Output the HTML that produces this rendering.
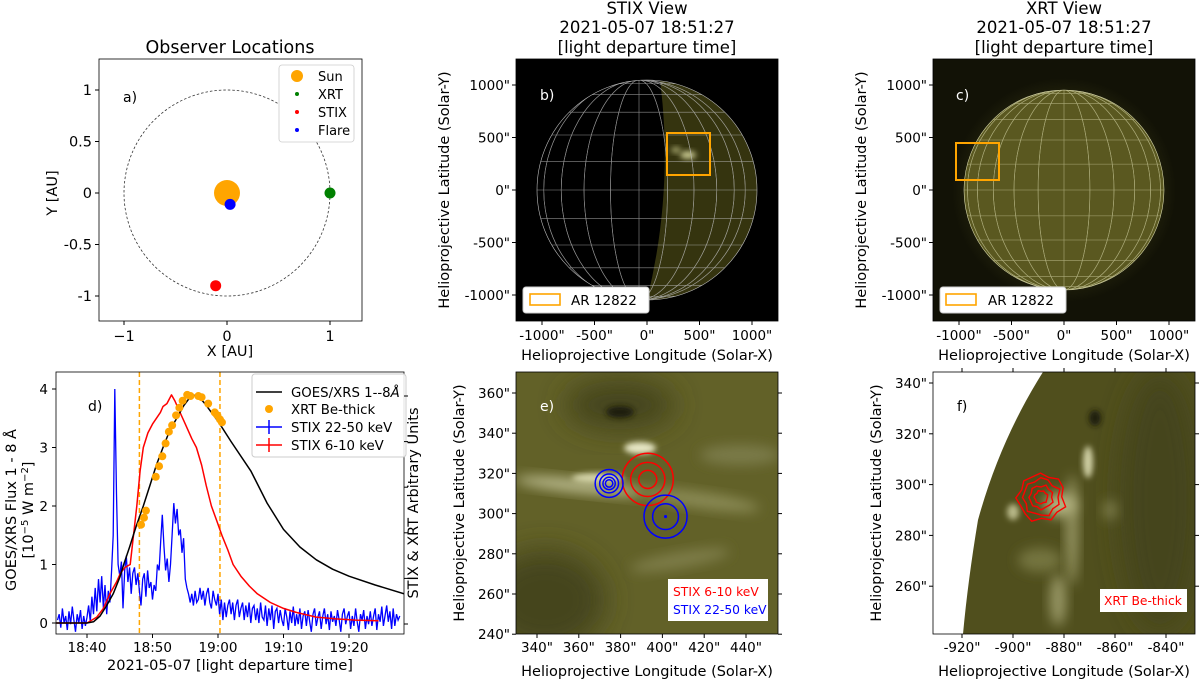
<!DOCTYPE html>
<html><head><meta charset="utf-8"><style>
html,body{margin:0;padding:0;background:#fff}
svg{display:block;font-family:"DejaVu Sans","Liberation Sans",sans-serif}
</style></head><body>
<svg id="fig" width="1200" height="679" viewBox="0 0 1200 679">
<defs>
<filter id="bl3" x="-50%" y="-50%" width="200%" height="200%"><feGaussianBlur stdDeviation="3"/></filter>
<filter id="bl6" x="-50%" y="-50%" width="200%" height="200%"><feGaussianBlur stdDeviation="6"/></filter>
<filter id="bl12" x="-50%" y="-50%" width="200%" height="200%"><feGaussianBlur stdDeviation="14"/></filter>
<clipPath id="clipB"><rect x="516" y="59" width="262" height="262"/></clipPath>
<clipPath id="clipC"><rect x="933" y="59" width="262" height="262"/></clipPath>
<clipPath id="clipE"><rect x="516" y="372" width="262" height="262"/></clipPath>
<clipPath id="clipF"><rect x="933" y="372" width="262" height="262"/></clipPath>
<clipPath id="clipD"><rect x="56" y="372" width="348" height="262"/></clipPath>
<clipPath id="diskB"><circle cx="647" cy="190" r="110"/></clipPath>
<clipPath id="diskC"><circle cx="1064" cy="190" r="100"/></clipPath>
<radialGradient id="glowC" cx="0.5" cy="0.5" r="0.5"><stop offset="0.8" stop-color="#22220c"/><stop offset="1" stop-color="#121206"/></radialGradient>
</defs>

<!-- ============ Panel a ============ -->
<g id="panelA">
<text x="230" y="53" font-size="17.5" text-anchor="middle">Observer Locations</text>
<rect x="99" y="59" width="263" height="262" fill="#fff" stroke="#000" stroke-width="0.8"/>
<g id="aMarks"></g>
<text x="123" y="102" font-size="14">a)</text>
<g>
<rect x="279" y="65" width="75" height="77" rx="3" fill="#fff" stroke="#ccc" stroke-width="0.8"/>
<circle cx="297" cy="76" r="6" fill="#ffa500"/><text x="318" y="81" font-size="13">Sun</text>
<circle cx="297" cy="94" r="2" fill="#008000"/><text x="318" y="99" font-size="13">XRT</text>
<circle cx="297" cy="112" r="2" fill="#ff0000"/><text x="318" y="117" font-size="13">STIX</text>
<circle cx="297" cy="130" r="2" fill="#0000ff"/><text x="318" y="135" font-size="13">Flare</text>
</g>
<g id="aTicks" font-size="14.5"></g>
<text x="230" y="356" font-size="14.5" text-anchor="middle">X [AU]</text>
<text transform="translate(57,193) rotate(-90)" font-size="14.5" text-anchor="middle">Y [AU]</text>
</g>

<!-- ============ Panel b ============ -->
<g id="panelB">
<g font-size="16.5" text-anchor="middle">
<text x="647" y="14">STIX View</text><text x="647" y="33">2021-05-07 18:51:27</text><text x="647" y="53">[light departure time]</text>
</g>
<rect x="516" y="59" width="262" height="262" fill="#000"/>
<g clip-path="url(#diskB)">
<path d="M660,80 Q674,190 647,300 L770,300 L770,80 Z" fill="#35340f"/>
<ellipse cx="688" cy="155" rx="8" ry="4" fill="#c8c890" filter="url(#bl3)"/>
<ellipse cx="676" cy="150" rx="5" ry="3" fill="#a8a870" filter="url(#bl3)"/>
</g>
<g id="gridB" clip-path="url(#diskB)" stroke="#bdbdbd" stroke-width="0.6" fill="none" opacity="0.75"></g>
<circle cx="647" cy="190" r="110" fill="none" stroke="#bdbdbd" stroke-width="0.6"/>
<rect x="667" y="133" width="43" height="42" fill="none" stroke="#ffa500" stroke-width="2"/>
<text x="540" y="100" font-size="14" fill="#fff">b)</text>
<g>
<rect x="523" y="287" width="126" height="26" rx="3" fill="#fff" stroke="#ccc"/>
<rect x="530" y="294" width="30" height="11" fill="none" stroke="#ffa500" stroke-width="1.6"/>
<text x="571" y="305" font-size="13.5">AR 12822</text>
</g>
<rect x="516" y="59" width="262" height="262" fill="none" stroke="#000" stroke-width="0.8"/>
<g id="bTicks" font-size="13.5"></g>
<text x="647" y="360" font-size="14.5" text-anchor="middle">Helioprojective Longitude (Solar-X)</text>
<text transform="translate(449,190) rotate(-90)" font-size="14.5" text-anchor="middle">Helioprojective Latitude (Solar-Y)</text>
</g>

<!-- ============ Panel c ============ -->
<g id="panelC">
<g font-size="16.5" text-anchor="middle">
<text x="1064" y="14">XRT View</text><text x="1064" y="33">2021-05-07 18:51:27</text><text x="1064" y="53">[light departure time]</text>
</g>
<rect x="933" y="59" width="262" height="262" fill="#121206"/>
<circle cx="1064" cy="190" r="112" fill="url(#glowC)" clip-path="url(#clipC)"/>
<circle cx="1064" cy="190" r="100" fill="#5a5820"/>
<g id="gridC" clip-path="url(#diskC)" stroke="#d6d6a8" stroke-width="0.6" fill="none" opacity="0.65"></g>
<circle cx="1064" cy="190" r="100" fill="none" stroke="#d6d6a8" stroke-width="0.6"/>
<rect x="956" y="143" width="43" height="37" fill="none" stroke="#ffa500" stroke-width="2"/>
<text x="956" y="100" font-size="14" fill="#fff">c)</text>
<g>
<rect x="940" y="287" width="126" height="26" rx="3" fill="#fff" stroke="#ccc"/>
<rect x="946" y="294" width="30" height="11" fill="none" stroke="#ffa500" stroke-width="1.6"/>
<text x="988" y="305" font-size="13.5">AR 12822</text>
</g>
<rect x="933" y="59" width="262" height="262" fill="none" stroke="#000" stroke-width="0.8"/>
<g id="cTicks" font-size="13.5"></g>
<text x="1064" y="360" font-size="14.5" text-anchor="middle">Helioprojective Longitude (Solar-X)</text>
<text transform="translate(866,190) rotate(-90)" font-size="14.5" text-anchor="middle">Helioprojective Latitude (Solar-Y)</text>
</g>

<!-- ============ Panel d ============ -->
<g id="panelD">
<rect x="56" y="372" width="348" height="262" fill="#fff"/>
<g id="dMarks" clip-path="url(#clipD)"></g>
<rect x="56" y="372" width="348" height="262" fill="none" stroke="#000" stroke-width="0.8"/>
<text x="88" y="411" font-size="14">d)</text>
<g>
<rect x="252" y="374" width="154" height="83" rx="3" fill="#fff" fill-opacity="0.85" stroke="#ccc"/>
<line x1="256" y1="392" x2="282" y2="392" stroke="#000" stroke-width="1.5"/><text x="291" y="397" font-size="13.3">GOES/XRS 1--8<tspan font-style="italic">Å</tspan></text>
<circle cx="269" cy="409" r="4" fill="#ffa500"/><text x="291" y="414" font-size="13.3">XRT Be-thick</text>
<line x1="256" y1="427" x2="282" y2="427" stroke="#0000ff" stroke-width="1.5"/><line x1="269" y1="420" x2="269" y2="434" stroke="#0000ff" stroke-width="1.5"/><text x="291" y="432" font-size="13.3">STIX 22-50 keV</text>
<line x1="256" y1="445" x2="282" y2="445" stroke="#ff0000" stroke-width="1.5"/><line x1="269" y1="438" x2="269" y2="452" stroke="#ff0000" stroke-width="1.5"/><text x="291" y="450" font-size="13.3">STIX 6-10 keV</text>
</g>
<g id="dTicks" font-size="13.5"></g>
<text x="230" y="670" font-size="14.5" text-anchor="middle">2021-05-07 [light departure time]</text>
<text transform="translate(16,510) rotate(-90)" font-size="14.5" text-anchor="middle">GOES/XRS Flux 1 - 8 Å</text>
<text transform="translate(33,510) rotate(-90)" font-size="14.5" text-anchor="middle">[10<tspan dy="-5" font-size="10">−5</tspan><tspan dy="5"> W m</tspan><tspan dy="-5" font-size="10">−2</tspan><tspan dy="5">]</tspan></text>
<text transform="translate(418,503) rotate(-90)" font-size="14.5" text-anchor="middle">STIX &amp; XRT Arbitrary Units</text>
</g>

<!-- ============ Panel e ============ -->
<g id="panelE">
<g clip-path="url(#clipE)">
<rect x="516" y="372" width="262" height="262" fill="#626128"/>
<ellipse cx="545" cy="600" rx="60" ry="50" fill="#45451c" filter="url(#bl12)"/>
<ellipse cx="620" cy="405" rx="55" ry="25" fill="#45451a" filter="url(#bl12)"/>
<ellipse cx="620" cy="412" rx="14" ry="6" fill="#1a1a08" filter="url(#bl3)"/>
<ellipse cx="580" cy="486" rx="65" ry="7" fill="#b6b688" filter="url(#bl6)" transform="rotate(6 580 486)"/>
<ellipse cx="640" cy="448" rx="16" ry="6" fill="#e6e6c4" filter="url(#bl3)"/>
<ellipse cx="598" cy="478" rx="26" ry="5" fill="#d4d4a8" filter="url(#bl3)"/>
<ellipse cx="700" cy="500" rx="60" ry="8" fill="#8a8a55" filter="url(#bl6)" transform="rotate(8 700 500)"/>
<ellipse cx="680" cy="560" rx="50" ry="8" fill="#7e7d4a" filter="url(#bl6)" transform="rotate(-10 680 560)"/>
<ellipse cx="740" cy="455" rx="40" ry="10" fill="#7a7a48" filter="url(#bl6)"/>
</g>
<g id="eContours"></g>
<rect x="516" y="372" width="262" height="262" fill="none" stroke="#000" stroke-width="0.8"/>
<text x="540" y="411" font-size="14" fill="#fff">e)</text>
<g>
<rect x="668" y="579" width="100" height="42" fill="#fff"/>
<text x="673" y="596" font-size="12.3" fill="#ff0000">STIX  6-10 keV</text>
<text x="673" y="614" font-size="12.3" fill="#0000ff">STIX 22-50 keV</text>
</g>
<g id="eTicks" font-size="13.5"></g>
<text x="647" y="676" font-size="14.5" text-anchor="middle">Helioprojective Longitude (Solar-X)</text>
<text transform="translate(464,503) rotate(-90)" font-size="14.5" text-anchor="middle">Helioprojective Latitude (Solar-Y)</text>
</g>

<!-- ============ Panel f ============ -->
<g id="panelF">
<g clip-path="url(#clipF)">
<rect x="933" y="372" width="262" height="262" fill="#504f1d"/>
<ellipse cx="1160" cy="500" rx="40" ry="130" fill="#45441a" filter="url(#bl12)"/>
<ellipse cx="1095" cy="418" rx="6" ry="8" fill="#1a1a08" filter="url(#bl3)"/>
<ellipse cx="1088" cy="462" rx="5" ry="16" fill="#d0d0a4" filter="url(#bl3)"/>
<ellipse cx="1072" cy="530" rx="6" ry="55" fill="#9a9966" filter="url(#bl6)"/>
<ellipse cx="1060" cy="505" rx="16" ry="12" fill="#b4b482" filter="url(#bl6)"/>
<ellipse cx="1013" cy="512" rx="6" ry="8" fill="#b8b888" filter="url(#bl3)"/>
<ellipse cx="1040" cy="560" rx="22" ry="12" fill="#75743f" filter="url(#bl6)"/>
<ellipse cx="1058" cy="600" rx="8" ry="26" fill="#999866" filter="url(#bl6)"/>
<ellipse cx="1110" cy="510" rx="7" ry="10" fill="#7c7b48" filter="url(#bl6)"/>
<path d="M933,372 L1043,372 Q1000,440 978,520 Q968,580 963,634 L933,634 Z" fill="#fff"/>
</g>
<g id="fContours" fill="none" stroke="#ff0000" stroke-width="1.4"></g>
<rect x="933" y="372" width="262" height="262" fill="none" stroke="#000" stroke-width="0.8"/>
<text x="957" y="411" font-size="14">f)</text>
<g>
<rect x="1100" y="589" width="87" height="23" fill="#fff"/>
<text x="1104" y="605" font-size="12.3" fill="#ff0000">XRT Be-thick</text>
</g>
<g id="fTicks" font-size="13.5"></g>
<text x="1064" y="676" font-size="14.5" text-anchor="middle">Helioprojective Longitude (Solar-X)</text>
<text transform="translate(881,503) rotate(-90)" font-size="14.5" text-anchor="middle">Helioprojective Latitude (Solar-Y)</text>
</g>
</svg>
<script>
// ---------- Data ----------
const obsNames = ["Sun","XRT","STIX","Flare"];
const obsX = [0, 1.0, -0.11, 0.03];
const obsY = [0, 0, -0.9, -0.11];
const obsColors = ["#ffa500","#008000","#ff0000","#0000ff"];

const goesT = [-4.7,0,1,2,3,4,5,5.6,6.5,7.5,8.6,9.6,10.6,11.6,12.6,13.7,14.8,16,17,18,19,20,22,25,27.5,30,32.5,35,37.5,40,44,48.4];
const goesV = [0,0,0.02,0.12,0.3,0.5,0.78,1.0,1.3,1.65,2.0,2.35,2.7,3.0,3.28,3.5,3.72,3.9,3.88,3.75,3.6,3.45,3.1,2.6,2.05,1.6,1.3,1.08,0.92,0.8,0.65,0.5];
const loT = [-4.7,0,1.5,2.5,3.5,4.5,5.1,5.8,6.6,7.1,7.6,8.1,8.6,9.3,10,10.6,11.2,11.6,12.2,12.9,13.4,14,15,16,16.7,17.5,18.2,19,19.8,20.6,21.5,22.3,23.5,24.8,26,28,30,32,35,38,41,44.5];
const loV = [0,0,0.1,0.25,0.5,0.7,0.85,0.95,1.0,1.5,2.0,2.6,3.0,3.25,3.4,3.5,3.6,3.7,3.75,3.9,3.8,3.65,3.4,3.15,3.0,2.7,2.35,2.0,1.75,1.5,1.25,1.0,0.8,0.63,0.5,0.35,0.25,0.18,0.1,0.07,0.05,0.04];
const xrtT = [8.25,8.7,9.0,10.5,11.0,11.5,12.0,12.5,13.0,13.6,14.1,14.6,15.3,15.8,17.0,17.5,18.5,19.5,19.9,20.3,20.6];
const xrtV = [1.68,1.8,1.92,2.5,2.68,2.85,3.07,3.27,3.38,3.55,3.68,3.8,3.9,3.88,3.88,3.86,3.75,3.6,3.55,3.48,3.43];
const hiStart = -4.5, hiStep = 0.25;
const hiV = [0.05,0.15,-0.08,0.25,0.0,0.12,-0.12,0.2,-0.02,0.28,0.05,-0.15,0.15,0.0,0.22,-0.1,0.12,-0.05,
0.1,0.3,0.02,0.45,0.15,0.6,0.2,0.75, 0.35,0.8,0.25,0.65,0.15,0.55,0.35,0.9,
1.5,4.0,2.2,1.0,0.8,1.05,0.25,0.9, 1.15,0.7,0.95,0.5,0.85,0.95,0.65,0.85,
0.55,0.3,0.75,0.85,0.45,0.9,0.6,0.7, 0.4,0.65,0.55,1.0,0.9,1.4,1.85,1.3,
0.9,1.1,0.7,1.0,1.5,2.05,1.7,1.95, 1.5,1.6,1.2,1.45,0.75,0.6,0.5,0.35,
0.5,0.3,0.55,0.35,0.4,0.6,0.4,0.55, 0.3,0.5,0.6,0.35,0.25,0.55,0.4,0.3,
0.5,0.15,0.4,0.05,0.35,0.1,0.3,0.4, 0.15,0.35,0.05,0.3,0.4,0.1,0.25,0.35,
0.05,0.3,0.1,0.35,0.0,0.25,0.3,0.05, 0.25,0.0,0.35,0.1,0.05,0.3,-0.05,0.25,
0.05,0.3,-0.1,0.2,0.25,0.0,0.22,0.05, -0.05,0.25,0.1,-0.12,0.2,0.0,0.28,-0.05,
0.15,-0.02,0.25,-0.1,0.12,0.2,-0.05,0.22, 0.02,-0.15,0.15,0.25,-0.05,0.1,0.2,-0.1,
0.12,0.25,-0.02,0.15,-0.12,0.2,0.02,0.12, -0.05,0.22,0.05,-0.15,0.15,0.25,-0.02,0.12,
0.2,-0.1,0.12,-0.05,0.25,0.02,-0.15,0.15, 0.05,0.22,-0.1,0.12,-0.02,0.2,-0.05,0.12,
0.25,-0.12,0.15,0.02,0.28,-0.05,0.12,0.3, 0.02,0.2,-0.1,0.25,-0.05,0.15,0.05,0.12];
const markerT = [8.0, 20.3];
const dTickT = [0,10,20,30,40];
const dTickLabels = ["18:40","18:50","19:00","19:10","19:20"];
const dTickV = [0,1,2,3,4];

const redCx = 393, redCy = 317, redRx = [4.3, 8.2, 12.2], redRy = [4.5, 8.5, 13];
const blueACx = 374.5, blueACy = 315, blueARad = [1.8, 3.0, 4.6, 6.8];
const blueBCx = 401.5, blueBCy = 298.5, blueBRad = [0.4, 6.3, 10.5];
const fCx = -889, fCy = 295, fRad = [2.5, 4.5, 7, 9];

// ---------- helpers ----------
const NS = "http://www.w3.org/2000/svg";
function mk(parent, tag, attrs, txt){const e=document.createElementNS(NS,tag);for(const k in attrs)e.setAttribute(k,attrs[k]);if(txt!==undefined)e.textContent=txt;parent.appendChild(e);return e;}
const $ = id => document.getElementById(id);

// ---------- Panel a ----------
const aX = v => 227 + v*103, aY = v => 193 - v*103;
{
 const g=$("aMarks");
 const orbit=mk(g,"circle",{cx:aX(0),cy:aY(0),r:103,fill:"none",stroke:"#333","stroke-width":0.8,"stroke-dasharray":"2.5,2"});
 
 
 obsNames.forEach((n,i)=>{
  const c=mk(g,"circle",{cx:aX(obsX[i]),cy:aY(obsY[i]),r:i===0?13:5.5,fill:obsColors[i]});
  
  
 });
 const t=$("aTicks");
 [-1,0,1].forEach(v=>{mk(t,"line",{x1:aX(v),x2:aX(v),y1:321,y2:325,stroke:"#000"});
  const lb=mk(t,"text",{x:aX(v),y:341,"text-anchor":"middle"},v===-1?"−1":String(v));
  
  });
 [[1,"1"],[0.5,"0.5"],[0,"0"],[-0.5,"-0.5"],[-1,"-1"]].forEach(([v,s])=>{mk(t,"line",{x1:95,x2:99,y1:aY(v),y2:aY(v),stroke:"#000"});
  const lb=mk(t,"text",{x:92,y:aY(v)+5,"text-anchor":"end"},s);
  
  });
}

// ---------- Globe grids ----------
function globe(g,cx,cy,R,shift){
 for(let lon=-75;lon<=75;lon+=15){
  const rx=Math.abs(R*Math.sin(lon*Math.PI/180));
  if(lon===0){mk(g,"line",{x1:cx+shift,y1:cy-R,x2:cx+shift,y2:cy+R});continue;}
  mk(g,"ellipse",{cx:cx+shift,cy:cy,rx:rx,ry:R});
 }
 for(let lat=-75;lat<=75;lat+=15){
  const y=cy-R*Math.sin(lat*Math.PI/180);
  mk(g,"line",{x1:cx-R,x2:cx+R,y1:y,y2:y});
 }
}
globe($("gridB"),647,190,110,-8);
globe($("gridC"),1064,190,100,0);

function hpTicks(g,x0,xMid,yMid,scale){
 const vals=[-1000,-500,0,500,1000];
 vals.forEach(v=>{
  const x=xMid+v*scale;
  mk(g,"line",{x1:x,x2:x,y1:321,y2:325,stroke:"#000"});
  const lb=mk(g,"text",{x:x,y:340,"text-anchor":"middle"},v+'"');
  
  
  const y=yMid-v*scale;
  mk(g,"line",{x1:x0-4,x2:x0,y1:y,y2:y,stroke:"#000"});
  const lb2=mk(g,"text",{x:x0-6,y:y+5,"text-anchor":"end"},v+'"');
  
  
 });
}
hpTicks($("bTicks"),516,647,190,0.105);
hpTicks($("cTicks"),933,1064,190,0.105);

// ---------- Panel d ----------
const dX = t => 87 + t*6.55, dY = v => 623 - v*58.5;
{
 const g=$("dMarks");
 markerT.forEach(t=>{const l=mk(g,"line",{x1:dX(t),x2:dX(t),y1:372,y2:634,stroke:"#ffa500","stroke-width":1.5,"stroke-dasharray":"5,3"});
  
  });
 const hp=hiV.map((v,i)=>dX(hiStart+i*hiStep).toFixed(1)+","+dY(v).toFixed(1)).join(" ");
 const hl=mk(g,"polyline",{points:hp,fill:"none",stroke:"#0000ff","stroke-width":1.3});
 
 
 const lp=loT.map((t,i)=>dX(t).toFixed(1)+","+dY(loV[i]).toFixed(1)).join(" ");
 const ll=mk(g,"polyline",{points:lp,fill:"none",stroke:"#ff0000","stroke-width":1.5,"stroke-linejoin":"round"});
 
 
 const gp=goesT.map((t,i)=>dX(t).toFixed(1)+","+dY(goesV[i]).toFixed(1)).join(" ");
 const gl=mk(g,"polyline",{points:gp,fill:"none",stroke:"#000","stroke-width":1.5,"stroke-linejoin":"round"});
 
 
 xrtT.forEach((t,i)=>{const c=mk(g,"circle",{cx:dX(t),cy:dY(xrtV[i]),r:4,fill:"#ffa500"});
  
  });
 const tk=$("dTicks");
 dTickT.forEach((t,i)=>{mk(tk,"line",{x1:dX(t),x2:dX(t),y1:634,y2:638,stroke:"#000"});
  const lb=mk(tk,"text",{x:dX(t),y:652,"text-anchor":"middle"},dTickLabels[i]);
  
  });
 dTickV.forEach(v=>{mk(tk,"line",{x1:52,x2:56,y1:dY(v),y2:dY(v),stroke:"#000"});
  const lb=mk(tk,"text",{x:48,y:dY(v)+5,"text-anchor":"end"},String(v));
  
  });
 for(let k=0;k<6;k++){const y=624-k*45.6;mk(tk,"line",{x1:404,x2:408,y1:y,y2:y,stroke:"#000"});}
}

// ---------- Panel e ----------
const eX = v => 537 + (v-340)*2.09, eY = v => 393 - (v-360)*2.01;
{
 const g=$("eContours");
 redRx.forEach((r,i)=>{const e=mk(g,"ellipse",{cx:eX(redCx),cy:eY(redCy),rx:r*2.09,ry:redRy[i]*2.01,fill:"none",stroke:"#ff0000","stroke-width":1.5});
  
  });
 blueARad.forEach(r=>{const e=mk(g,"circle",{cx:eX(blueACx),cy:eY(blueACy),r:r*2.05,fill:"none",stroke:"#0000ff","stroke-width":1.5});
  
  });
 blueBRad.forEach(r=>{const e=mk(g,"circle",{cx:eX(blueBCx),cy:eY(blueBCy),r:r*2.05,fill:r<1?"#0000ff":"none",stroke:"#0000ff","stroke-width":1.5});
  
  });
 const tk=$("eTicks");
 [340,360,380,400,420,440].forEach(v=>{mk(tk,"line",{x1:eX(v),x2:eX(v),y1:634,y2:638,stroke:"#000"});
  const lb=mk(tk,"text",{x:eX(v),y:652,"text-anchor":"middle"},v+'"');
  
  });
 [240,260,280,300,320,340,360].forEach(v=>{mk(tk,"line",{x1:512,x2:516,y1:eY(v),y2:eY(v),stroke:"#000"});
  mk(tk,"line",{x1:778,x2:782,y1:eY(v),y2:eY(v),stroke:"#000"});
  const lb=mk(tk,"text",{x:510,y:eY(v)+5,"text-anchor":"end"},v+'"');
  
  });
}

// ---------- Panel f ----------
const fX = v => 962 + (v+920)*2.55, fY = v => 383 - (v-340)*2.54;
{
 const g=$("fContours");
 const wob=[1,1.12,0.92,1.08,0.95,1.15,0.9,1.05,1.1,0.93,1.06,0.97,1.04,0.9,1.1,0.96];
 fRad.forEach((r,k)=>{
  const pts=wob.map((w,i)=>{const a=i/wob.length*2*Math.PI+k*0.4;const rr=r*wob[(i+k*3)%wob.length];
   return (fX(fCx+rr*Math.cos(a))).toFixed(1)+","+(fY(fCy+rr*Math.sin(a))).toFixed(1);});
  const p=mk(g,"polygon",{points:pts.join(" ")});
  
  
 });
 const tk=$("fTicks");
 [-920,-900,-880,-860,-840].forEach(v=>{mk(tk,"line",{x1:fX(v),x2:fX(v),y1:634,y2:638,stroke:"#000"});
  mk(tk,"line",{x1:fX(v),x2:fX(v),y1:368,y2:372,stroke:"#000"});
  const lb=mk(tk,"text",{x:fX(v),y:652,"text-anchor":"middle"},v+'"');
  
  });
 [260,280,300,320,340].forEach(v=>{mk(tk,"line",{x1:929,x2:933,y1:fY(v),y2:fY(v),stroke:"#000"});
  mk(tk,"line",{x1:1195,x2:1199,y1:fY(v),y2:fY(v),stroke:"#000"});
  const lb=mk(tk,"text",{x:927,y:fY(v)+5,"text-anchor":"end"},v+'"');
  
  });
}
</script>
</body></html>
